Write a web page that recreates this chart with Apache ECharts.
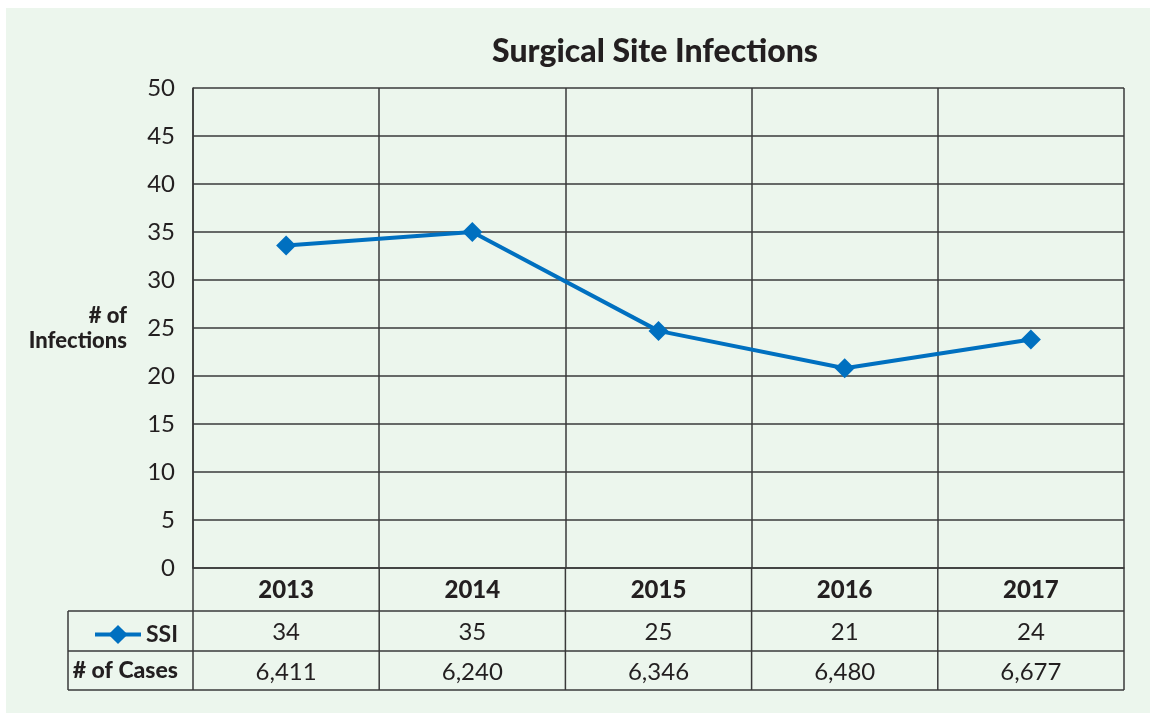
<!DOCTYPE html>
<html>
<head>
<meta charset="UTF-8">
<title>Surgical Site Infections</title>
<script src="https://cdn.jsdelivr.net/npm/echarts@6/dist/echarts.min.js"></script>
</head>
<body style="margin:0;">
<div id="main" style="width:1150px;height:713px;"></div>
<script type="text/javascript">
// data
var years = ['2013', '2014', '2015', '2016', '2017'];
var ssiPlotted = [33.6, 35, 24.7, 20.8, 23.8];   // where the markers sit on the chart
var ssiTable = ['34', '35', '25', '21', '24'];    // values printed in the table
var cases = ['6,411', '6,240', '6,346', '6,480', '6,677'];
var yTicks = [0, 5, 10, 15, 20, 25, 30, 35, 40, 45, 50];

var FONT = 'Lato';
var GRID_L = 193, GRID_R = 1124, GRID_T = 88, GRID_B = 568;
var LINE = '#3a3a3a';
var BLUE = '#0070c0';
var INK = '#231f20';

// table rule lines (layout only)
var tableLines = [];
function hline(x1, x2, y) {
    tableLines.push({ type: 'line', shape: { x1: x1, y1: y, x2: x2, y2: y }, style: { stroke: LINE, lineWidth: 1.5 }, silent: true });
}
function vline(x, y1, y2) {
    tableLines.push({ type: 'line', shape: { x1: x, y1: y1, x2: x, y2: y2 }, style: { stroke: LINE, lineWidth: 1.5 }, silent: true });
}
hline(68, GRID_R, 611);
hline(68, GRID_R, 651);
hline(68, GRID_R, 690);
vline(68, 611, 690);
var colW = (GRID_R - GRID_L) / years.length;
for (var i = 0; i <= years.length; i++) {
    vline(GRID_L + i * colW, GRID_B, 690);
}

var myChart = echarts.init(document.getElementById('main'));
myChart.setOption({
    backgroundColor: '#ffffff',
    animation: false,
    title: {
        text: 'Surgical Site Infections',
        left: 650,
        textAlign: 'center',
        top: 31,
        textStyle: { fontFamily: FONT, fontSize: 32, fontWeight: 900, color: INK }
    },
    legend: {
        data: ['SSI'],
        left: 88,
        top: 618,
        itemWidth: 46,
        itemHeight: 24,
        itemGap: 8,
        lineStyle: { width: 4 },
        textStyle: { fontFamily: FONT, fontSize: 23, fontWeight: 'bold', color: INK }
    },
    grid: {
        left: GRID_L,
        right: 1150 - GRID_R,
        top: GRID_T,
        bottom: 713 - GRID_B,
        containLabel: false
    },
    xAxis: {
        type: 'category',
        data: years,
        boundaryGap: true,
        axisLine: { show: true, lineStyle: { color: LINE, width: 1.5 } },
        axisTick: { show: false },
        splitLine: { show: true, lineStyle: { color: LINE, width: 1.5 } },
        axisLabel: {
            margin: 0,
            interval: 0,
            formatter: function (value, idx) {
                return '{y|' + value + '}\n{v|' + ssiTable[idx] + '}\n{c|' + cases[idx] + '}';
            },
            rich: {
                y: { fontFamily: FONT, fontSize: 24, fontWeight: 900, color: INK, lineHeight: 44, align: 'center' },
                v: { fontFamily: FONT, fontSize: 24, color: INK, lineHeight: 40, align: 'center' },
                c: { fontFamily: FONT, fontSize: 24, color: INK, lineHeight: 40, align: 'center' }
            }
        }
    },
    yAxis: {
        type: 'value',
        min: yTicks[0],
        max: yTicks[yTicks.length - 1],
        interval: 5,
        name: '# of\nInfections',
        nameLocation: 'middle',
        nameRotate: 0,
        nameGap: 66,
        nameTextStyle: { fontFamily: FONT, fontSize: 22, fontWeight: 900, color: INK, align: 'right', lineHeight: 25, padding: [0, 0, 28, 0] },
        axisLine: { show: true, lineStyle: { color: LINE, width: 1.5 } },
        axisTick: { show: false },
        splitLine: { show: true, lineStyle: { color: LINE, width: 1.5 } },
        axisLabel: { margin: 18, fontFamily: FONT, fontSize: 24, color: INK }
    },
    series: [{
        name: 'SSI',
        type: 'line',
        data: ssiPlotted,
        symbol: 'diamond',
        symbolSize: 20,
        lineStyle: { color: BLUE, width: 4 },
        itemStyle: { color: BLUE }
    }],
    graphic: [{
        type: 'rect',
        z: -10,
        shape: { x: 6, y: 8, width: 1144, height: 705 },
        style: { fill: '#ecf6ed' },
        silent: true
    }, {
        type: 'text',
        x: 178,
        y: 671,
        style: {
            text: '# of Cases',
            fontFamily: FONT, fontSize: 23, fontWeight: 900, fill: INK,
            textAlign: 'right', textVerticalAlign: 'middle'
        },
        silent: true
    }].concat(tableLines)
});
</script>
</body>
</html>
